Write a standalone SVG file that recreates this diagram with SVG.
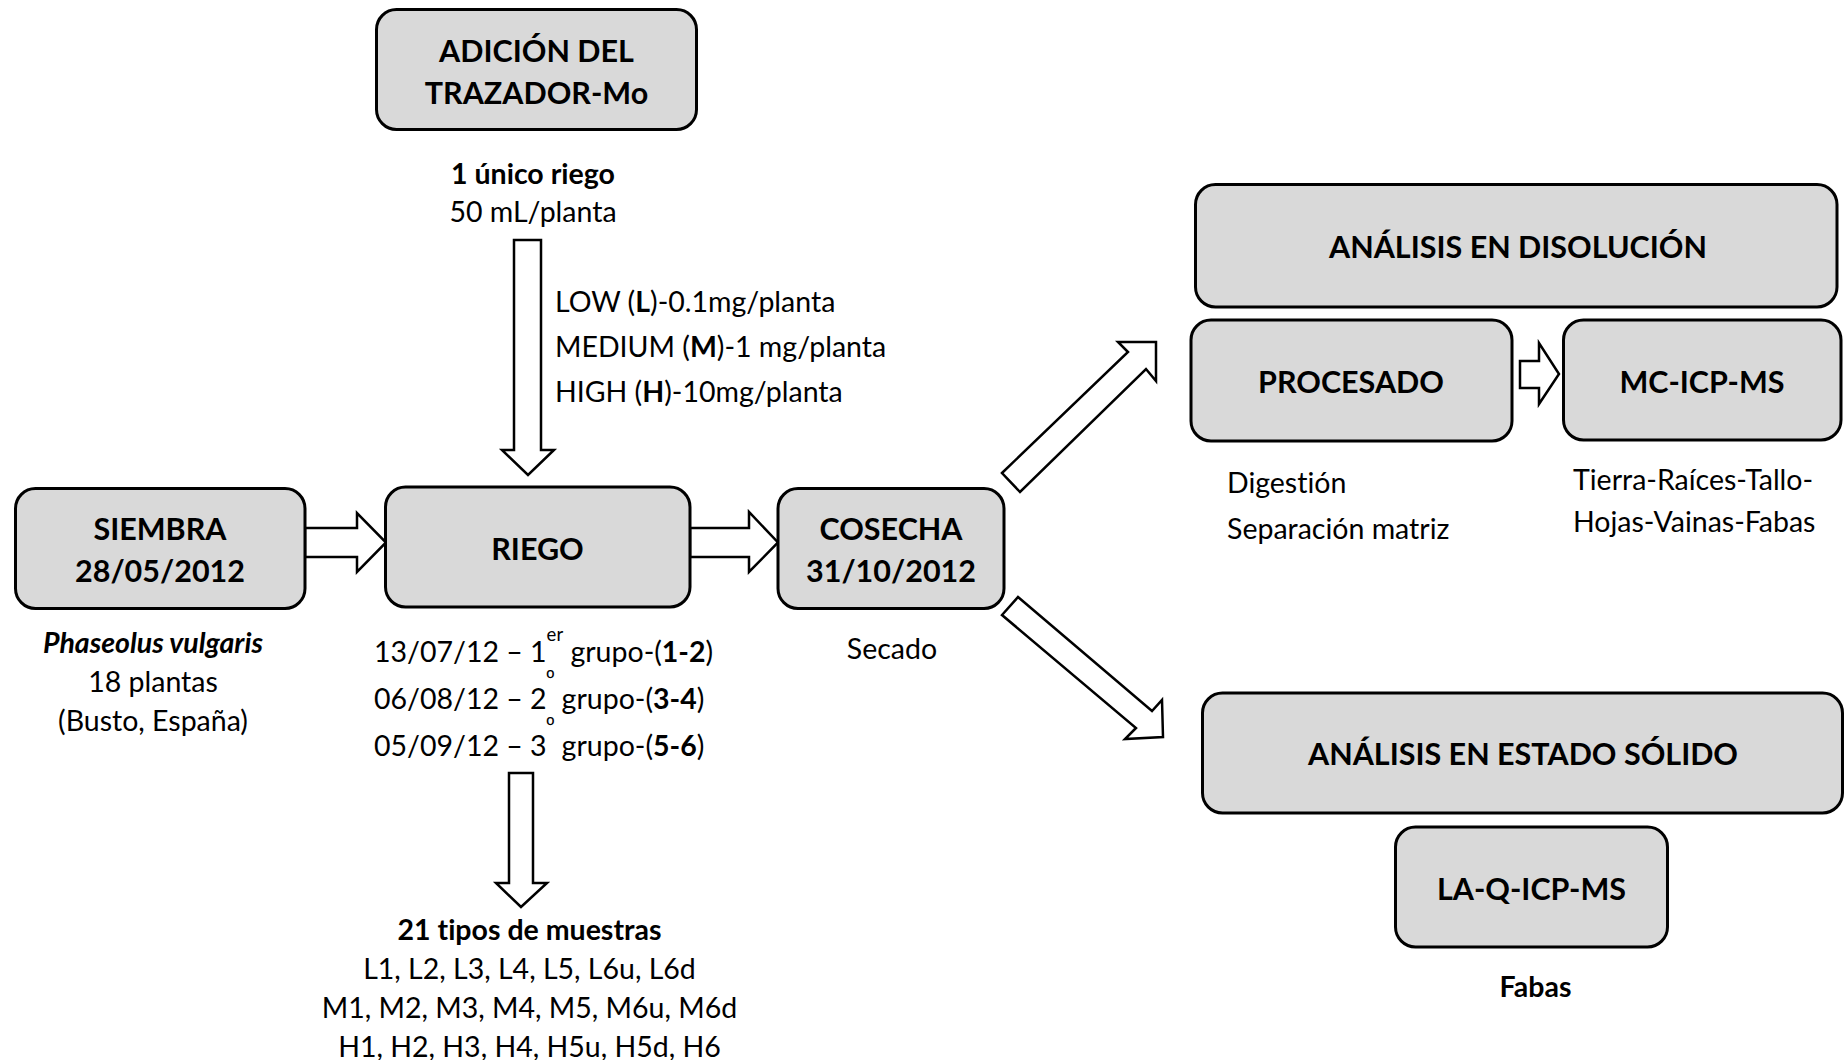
<svg xmlns="http://www.w3.org/2000/svg" width="1845" height="1060" viewBox="0 0 1845 1060">
<style>
.box{fill:#d9d9d9;stroke:#000;stroke-width:3}
.arrow{fill:#fff;stroke:#000;stroke-width:2.5;stroke-linejoin:miter}
text{font-family:Lato,"Liberation Sans",sans-serif;font-size:28.5px;fill:#000;font-variant-ligatures:none}
.b{font-weight:700}
.title{font-weight:700;font-size:30.5px;text-anchor:middle}
.m{text-anchor:middle}
.sup{font-size:18.5px}
.ord{font-size:21px;font-family:"Liberation Sans",sans-serif}
</style>
<rect width="1845" height="1060" fill="#fff"/>
<g id="connectors">
<polygon class="arrow" points="514,240 541,240 541,450 554,450 528,475 502,450 514,450"/>
<polygon class="arrow" points="305,528 357,528 357,513 386,542.5 357,572 357,557 305,557"/>
<polygon class="arrow" points="690,528 749,528 749,512 778,542.5 749,572 749,557 690,557"/>
<polygon class="arrow" points="509,773 533,773 533,883 547,883 521,907 496,883 509,883"/>
<polygon class="arrow" points="1002,473 1128,352 1118,342 1156,342 1156,381 1146,369 1020,492"/>
<polygon class="arrow" points="1018,597 1152,711 1162,700 1163,737 1125,739 1136,728 1002,615"/>
<polygon class="arrow" points="1520,361 1539,361 1539,343 1559,374 1539,404 1539,388 1520,388"/>
</g>
<g id="adicion">
<rect class="box" x="376.5" y="9.5" width="320" height="120" rx="20"/>
<text class="title" x="536.5" y="62">ADICIÓN DEL</text>
<text class="title" x="536.5" y="104">TRAZADOR-Mo</text>
<text class="b m" x="533" y="184">1 único riego</text>
<text class="m" x="533" y="222">50 mL/planta</text>
<text x="555" y="312">LOW (<tspan class="b">L</tspan>)-0.1mg/planta</text>
<text x="555" y="357">MEDIUM (<tspan class="b">M</tspan>)-1 mg/planta</text>
<text x="555" y="402">HIGH (<tspan class="b">H</tspan>)-10mg/planta</text>
</g>
<g id="siembra">
<rect class="box" x="15.5" y="488.5" width="289.5" height="120" rx="20"/>
<text class="title" x="160" y="539.5">SIEMBRA</text>
<text class="title" x="160" y="582">28/05/2012</text>
<text class="b m" x="153" y="653" font-style="italic" font-size="30">Phaseolus vulgaris</text>
<text class="m" x="153" y="692">18 plantas</text>
<text class="m" x="153" y="731">(Busto, España)</text>
</g>
<g id="riego">
<rect class="box" x="385.5" y="487" width="304.5" height="120" rx="20"/>
<text class="title" x="537.5" y="559.5">RIEGO</text>
<text x="374" y="662">13/07/12 – 1<tspan class="sup" dy="-21">er</tspan><tspan dy="21"> grupo-(</tspan><tspan class="b">1-2</tspan>)</text>
<text x="374" y="709">06/08/12 – 2<tspan class="ord" dy="-24">º</tspan><tspan dy="24"> grupo-(</tspan><tspan class="b">3-4</tspan>)</text>
<text x="374" y="756">05/09/12 – 3<tspan class="ord" dy="-24">º</tspan><tspan dy="24"> grupo-(</tspan><tspan class="b">5-6</tspan>)</text>
<text class="b m" x="529.5" y="940">21 tipos de muestras</text>
<text class="m" x="529.5" y="979">L1, L2, L3, L4, L5, L6u, L6d</text>
<text class="m" x="529.5" y="1018">M1, M2, M3, M4, M5, M6u, M6d</text>
<text class="m" x="529.5" y="1057">H1, H2, H3, H4, H5u, H5d, H6</text>
</g>
<g id="cosecha">
<rect class="box" x="778" y="488.5" width="226" height="120" rx="20"/>
<text class="title" x="891" y="539.5">COSECHA</text>
<text class="title" x="891" y="582">31/10/2012</text>
<text class="m" x="892" y="659">Secado</text>
</g>
<g id="disolucion">
<rect class="box" x="1195.5" y="184.5" width="641.5" height="122.5" rx="20"/>
<text class="title" x="1518" y="258">ANÁLISIS EN DISOLUCIÓN</text>
</g>
<g id="procesado">
<rect class="box" x="1191" y="320" width="321" height="121" rx="20"/>
<text class="title" x="1351" y="392.5">PROCESADO</text>
<text x="1227" y="493">Digestión</text>
<text x="1227" y="539">Separación matriz</text>
</g>
<g id="mc-icp-ms">
<rect class="box" x="1563.5" y="320" width="277.5" height="120" rx="20"/>
<text class="title" x="1702" y="392.5">MC-ICP-MS</text>
<text x="1573" y="490">Tierra-Raíces-Tallo-</text>
<text x="1573" y="532">Hojas-Vainas-Fabas</text>
</g>
<g id="solido">
<rect class="box" x="1202.5" y="693" width="640" height="120" rx="20"/>
<text class="title" x="1523" y="765">ANÁLISIS EN ESTADO SÓLIDO</text>
</g>
<g id="la-q-icp-ms">
<rect class="box" x="1395.5" y="827" width="272" height="120" rx="20"/>
<text class="title" x="1531.5" y="899.5">LA-Q-ICP-MS</text>
<text class="b m" x="1535.5" y="997">Fabas</text>
</g>
</svg>
